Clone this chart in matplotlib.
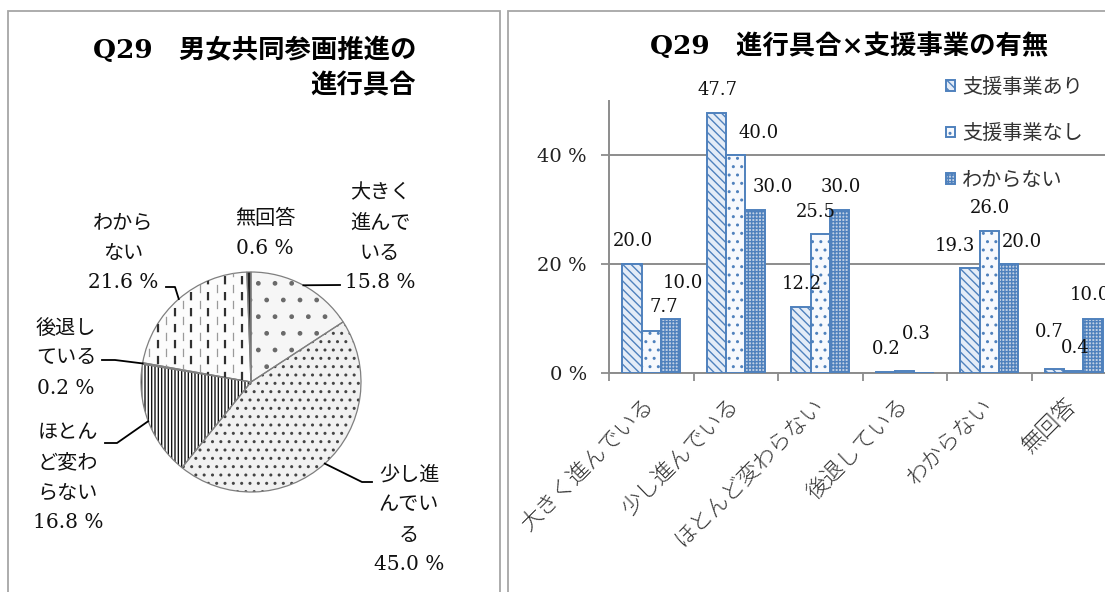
import textwrap
import numpy as np
import matplotlib.pyplot as plt
from matplotlib.patches import Rectangle
from matplotlib.transforms import ScaledTranslation

plt.rcParams['font.family'] = ['DejaVu Serif', 'Noto Sans CJK JP']
plt.rcParams['hatch.linewidth'] = 1.0
plt.rcParams['lines.scale_dashes'] = False

# Data

progress_labels = ["大きく進んでいる", "少し進んでいる", "ほとんど変わらない",
                   "後退している", "わからない", "無回答"]
progress_share = [15.8, 45.0, 16.8, 0.2, 21.6, 0.6]

series_names = ["支援事業あり", "支援事業なし", "わからない"]
with_support = [20.0, 47.7, 12.2, 0.2, 19.3, 0.7]
without_support = [7.7, 40.0, 25.5, 0.3, 26.0, 0.4]
unknown_support = [10.0, 30.0, 30.0, 0.0, 20.0, 10.0]
y_ticks = [0, 20, 40]

# Layout (figure pixels, y from top)

W, H = 1105, 592
BLUE = '#4f81bd'


def fx(x):
    return x / W


def fy(y):
    return 1 - y / H


fig = plt.figure(figsize=(W / 100, H / 100), dpi=100)

# panel frames
for x0, x1 in [(8, 500), (508, 1130)]:
    fig.add_artist(Rectangle((fx(x0), fy(620)), (x1 - x0) / W, (620 - 11) / H,
                             transform=fig.transFigure, fill=False,
                             edgecolor='#a6a6a6', lw=1.3))

# Left: pie

ax_pie = fig.add_axes([0, 0, 500 / W, 1])
cx, cy, r = 251, H - 382, 110

pie_hatch = ['.', '..', '|||||', '', None, '']
pie_face = ['#f6f6f6', '#f1f1f1', '#ffffff', '#9a9a9a', '#fcfcfc', '#262626']
pie_hcol = ['#6a6a6a', '#444444', '#111111', '#666666', '#666666', '#262626']

wedges, _ = ax_pie.pie(progress_share, startangle=90, counterclock=False,
                       center=(cx, cy), radius=r,
                       colors=pie_face, wedgeprops=dict(lw=0))
for w, hh, hc in zip(wedges, pie_hatch, pie_hcol):
    w.set_edgecolor(hc)
    w.set_linewidth(0)
    if hh:
        w.set_hatch(hh)
ax_pie.pie(progress_share, startangle=90, counterclock=False,
           center=(cx, cy), radius=r,
           wedgeprops=dict(fill=False, edgecolor='#7f7f7f', lw=0.9))

# dashed vertical texture for the "わからない" slice
xs = np.arange(cx - r, cx + 1, 8.4)
for k, xv in enumerate(xs):
    dark = k % 2 == 0
    ln, = ax_pie.plot([xv, xv], [cy - r, cy + r],
                      color='#303030' if dark else '#9a9a9a',
                      lw=1.6 if dark else 0.9,
                      linestyle=(0 if dark else 6, (6, 5.5)))
    ln.set_clip_path(wedges[4])

ax_pie.set_xlim(0, 500)
ax_pie.set_ylim(0, H)
ax_pie.axis('off')

pie_label_pos = [(380, 238), (409, 520), (68, 478), (66, 358), (123, 253), (265, 233)]
pie_leaders = [[(340, 285)], [(362, 482), (372, 482)], [(117, 443), (105, 443)],
               [(115, 360), (102, 360)], [(175, 287), (166, 287)], None]

for w, lab, val, (lx, ly), lead in zip(wedges, progress_labels, progress_share,
                                       pie_label_pos, pie_leaders):
    lines = textwrap.wrap(lab, 3) + [f"{val:.1f} %"]
    n = len(lines)
    for i, line in enumerate(lines):
        ax_pie.text(lx, H - (ly + (i - (n - 1) / 2) * 30), line,
                    ha='center', va='center', fontsize=14.5, color='#111111')
    if lead:
        ang = np.deg2rad((w.theta1 + w.theta2) / 2)
        px = [cx + r * np.cos(ang)] + [p[0] for p in lead]
        py = [cy + r * np.sin(ang)] + [H - p[1] for p in lead]
        ax_pie.plot(px, py, color='black', lw=1.3)

fig.text(fx(416), fy(50), "Q29　男女共同参画推進の", ha='right', va='center',
         fontsize=19, fontweight='bold')
fig.text(fx(416), fy(86), "進行具合", ha='right', va='center',
         fontsize=19, fontweight='bold')

# Right: grouped bars

ax = fig.add_axes([fx(609), fy(373), 6 * 84.5 / W, 272.5 / H])
x = np.arange(len(progress_labels))
bw = 0.23
series = [with_support, without_support, unknown_support]
bar_face = ['#e4ecf7', '#f7f9fd', '#c2d0e4']
bar_hatch = ['\\\\\\\\', '..', '+++++']

nudges = {(1, 0): (13, 24), (2, 0): (12, 36), (1, 1): (23, 22), (2, 1): (18, 22),
          (1, 2): (-4, 22), (1, 3): (12, 37), (0, 4): (-15, 22), (2, 4): (13, 22),
          (0, 5): (-5, 37), (2, 5): (-3, 23)}

for s, (vals, name) in enumerate(zip(series, series_names)):
    pos = x + (s - 1) * bw
    ax.bar(pos, vals, bw, facecolor=bar_face[s], edgecolor=BLUE,
           hatch=bar_hatch[s], lw=1.4, label=name, zorder=3)
    for c, (xp, v) in enumerate(zip(pos, vals)):
        if v == 0:
            continue
        dx, dy = nudges.get((s, c), (1, 23))
        ax.annotate(f"{v:.1f}", (xp, v), xytext=(dx, dy),
                    textcoords='offset pixels', ha='center', va='center',
                    fontsize=13, color='#111111', zorder=4)

ax.set_xlim(-0.5, len(x) - 0.5)
ax.set_ylim(0, 50)
ax.set_yticks(y_ticks)
ax.set_yticklabels([f"{t} %" for t in y_ticks], fontsize=14, color='#222222')
ax.set_xticks(x)
ax.set_xticklabels(progress_labels, rotation=45, ha='right', va='center',
                   rotation_mode='anchor', fontsize=16, color='#333333',
                   family=['Noto Sans CJK JP'], fontweight='light')
shift = ScaledTranslation(6 / 100, 0, fig.dpi_scale_trans)
for lbl in ax.get_xticklabels():
    lbl.set_transform(lbl.get_transform() + shift)
ax.set_xticks(np.arange(-0.5, len(x)), minor=True)
ax.tick_params(axis='x', which='major', length=0, pad=21)
ax.tick_params(axis='x', which='minor', length=6, width=1.3, color='#8c8c8c')
ax.tick_params(axis='y', length=6, width=1.3, color='#8c8c8c', pad=10)
ax.yaxis.grid(True, color='#8c8c8c', lw=1.4)
ax.set_axisbelow(True)
for side in ['top', 'right']:
    ax.spines[side].set_visible(False)
for side in ['left', 'bottom']:
    ax.spines[side].set_color('#8c8c8c')
    ax.spines[side].set_linewidth(1.4)

ax.legend(loc='upper left', bbox_to_anchor=(fx(936), fy(67)),
          bbox_transform=fig.transFigure, frameon=False, borderpad=0,
          handlelength=0.45, handleheight=0.45, handletextpad=0.35,
          labelspacing=1.25, prop=dict(family=['Noto Sans CJK JP'], size=14.5),
          labelcolor='#333333')

fig.text(fx(849), fy(46), "Q29　進行具合×支援事業の有無", ha='center', va='center',
         fontsize=19, fontweight='bold')

plt.savefig("out.png", dpi=100)
